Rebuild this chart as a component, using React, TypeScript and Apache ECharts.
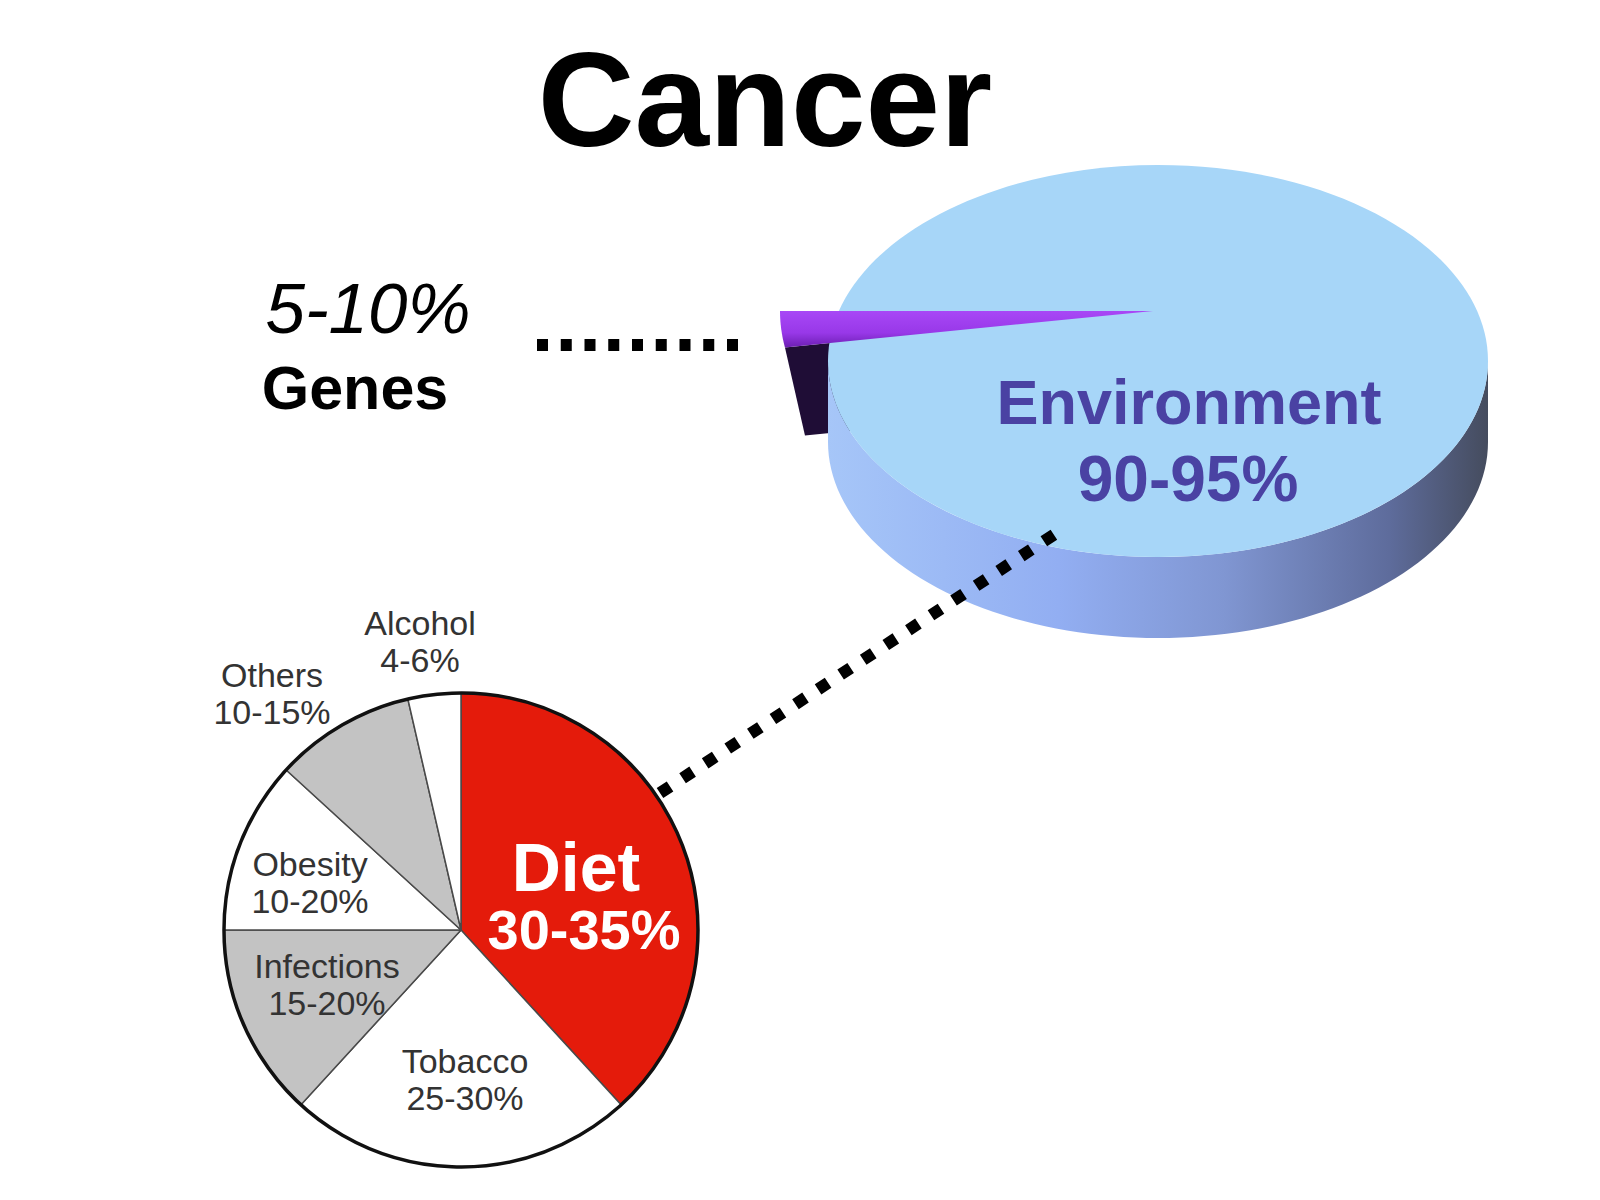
import React, { useEffect, useRef } from 'react';
import * as echarts from 'echarts';

// ---------- data ----------
const TITLE = 'Cancer';

// Big 3D pie (visual shares as drawn in the picture) and its printed ranges
const bigCategories = ['Genes', 'Environment'];
const bigShares = [2.6, 97.4];
const bigRanges = ['5-10%', '90-95%'];

// Small pie: causes of environment-related cancer
const smallCategories = ['Diet', 'Tobacco', 'Infections', 'Obesity', 'Others', 'Alcohol'];
const smallShares = [38.2, 23.6, 13.2, 11.8, 9.6, 3.6];
const smallRanges = ['30-35%', '25-30%', '15-20%', '10-20%', '10-15%', '4-6%'];

// ---------- styles / layout ----------
const FONT = '"Liberation Sans", Arial, Helvetica, sans-serif';
const SLICE_COLORS = ['#e41b0b', '#ffffff', '#c3c3c3', '#ffffff', '#c3c3c3', '#ffffff'];
const SMALL_PIE = { cx: 461, cy: 930, r: 237 };
const LABEL_POS: [number, number][] = [
  [582, 898],
  [465, 1079],
  [327, 984],
  [310, 882],
  [272, 693],
  [420, 641],
];
const BIG = { cx: 1158, cy: 361, rx: 330, ry: 196, depth: 81 };
const WEDGE = { tipX: 1153, tipY: 311, rx: 373, ry: 224, dropX: 20, dropY: 88 };

export default function App() {
  const ref = useRef<HTMLDivElement>(null);

  useEffect(() => {
    if (!ref.current) return;
    const chart = echarts.init(ref.current, null, { renderer: 'svg' });
    const bigTotal = bigShares.reduce((a, b) => a + b, 0);
    const rad = (d: number) => (d * Math.PI) / 180;

    const renderBig = (params: any, api: any) => {
      const v = api.value(0);
      if (params.dataIndex === 1) {
        const { cx, cy, rx, ry, depth } = BIG;
        const pts: number[][] = [];
        for (let t = 0; t <= 180; t += 2) pts.push([cx + rx * Math.cos(rad(t)), cy + ry * Math.sin(rad(t))]);
        for (let t = 180; t >= 0; t -= 2) pts.push([cx + rx * Math.cos(rad(t)), cy + ry * Math.sin(rad(t)) + depth]);
        return {
          type: 'group',
          children: [
            {
              type: 'polygon',
              z2: 2,
              shape: { points: pts },
              style: {
                fill: {
                  type: 'linear', x: 0, y: 0, x2: 1, y2: 0,
                  colorStops: [
                    { offset: 0, color: '#a6c6f8' },
                    { offset: 0.35, color: '#92aef2' },
                    { offset: 0.6, color: '#8096d2' },
                    { offset: 0.85, color: '#5e6c9c' },
                    { offset: 1, color: '#454c5e' },
                  ],
                },
              },
            },
            {
              type: 'ellipse',
              z2: 3,
              shape: { cx, cy, rx, ry },
              style: { fill: '#a7d6f8' },
            },
          ],
        };
      }
      // Genes wedge, exploded to the left
      const span = (360 * v) / bigTotal;
      const a0 = 180 - span;
      const a1 = 180;
      const { tipX, tipY, rx, ry, dropX, dropY } = WEDGE;
      const arc: number[][] = [];
      for (let i = 0; i <= 8; i++) {
        const t = a0 + ((a1 - a0) * i) / 8;
        arc.push([tipX + rx * Math.cos(rad(t)), tipY + ry * Math.sin(rad(t))]);
      }
      const B = arc[0];
      return {
        type: 'group',
        children: [
          {
            type: 'polygon',
            z2: 1,
            shape: {
              points: [B, [tipX, tipY], [tipX + dropX, tipY + dropY], [B[0] + dropX, B[1] + dropY]],
            },
            style: { fill: '#1f0d36' },
          },
          {
            type: 'polygon',
            z2: 4,
            shape: { points: [[tipX, tipY], ...arc] },
            style: {
              fill: {
                type: 'linear', x: 0, y: 0, x2: 0, y2: 1,
                colorStops: [
                  { offset: 0, color: '#a848f6' },
                  { offset: 0.6, color: '#9838e8' },
                  { offset: 1, color: '#6c1eb2' },
                ],
              },
            },
          },
        ],
      };
    };

    const option = {
      animation: false,
      backgroundColor: '#ffffff',
      series: [
        {
          type: 'custom',
          coordinateSystem: 'none',
          silent: true,
          z: 2,
          data: bigShares.map((v, i) => ({ name: bigCategories[i], value: v })),
          renderItem: renderBig,
        },
        {
          type: 'pie',
          silent: true,
          z: 3,
          center: [SMALL_PIE.cx, SMALL_PIE.cy],
          radius: [0, SMALL_PIE.r],
          startAngle: 90,
          clockwise: true,
          avoidLabelOverlap: false,
          emphasis: { disabled: true },
          data: smallCategories.map((n, i) => ({
            name: n,
            value: smallShares[i],
            itemStyle: { color: SLICE_COLORS[i] },
          })),
          itemStyle: { borderColor: '#4a4a4a', borderWidth: 1.5 },
          label: {
            show: true,
            position: 'inside',
            fontFamily: FONT,
            formatter: (p: any) =>
              p.dataIndex === 0
                ? `{dn|${p.name}}\n{dv|${smallRanges[0]}}`
                : `{n|${p.name}}\n{v|${smallRanges[p.dataIndex]}}`,
            rich: {
              dn: { fontFamily: FONT, fontSize: 68, fontWeight: 'bold', color: '#ffffff', lineHeight: 62, padding: [0, 12, 0, 0] },
              dv: { fontFamily: FONT, fontSize: 56, fontWeight: 'bold', color: '#ffffff', lineHeight: 62, padding: [0, 0, 0, 4] },
              n: { fontFamily: FONT, fontSize: 34, color: '#333333', lineHeight: 37 },
              v: { fontFamily: FONT, fontSize: 34, color: '#333333', lineHeight: 37 },
            },
          },
          labelLine: { show: false },
          labelLayout: (p: any) => ({
            x: LABEL_POS[p.dataIndex][0],
            y: LABEL_POS[p.dataIndex][1],
            align: 'center',
            verticalAlign: 'middle',
          }),
        },
      ],
      graphic: [
        {
          type: 'circle',
          z: 20,
          silent: true,
          shape: { cx: SMALL_PIE.cx, cy: SMALL_PIE.cy, r: SMALL_PIE.r },
          style: { fill: 'none', stroke: '#111111', lineWidth: 3.5 },
        },
        {
          type: 'line',
          z: 30,
          silent: true,
          shape: { x1: 537, y1: 345, x2: 743, y2: 345 },
          style: { stroke: '#000000', lineWidth: 12, lineDash: [11, 12.75] },
        },
        {
          type: 'line',
          z: 30,
          silent: true,
          shape: { x1: 660, y1: 793, x2: 1055, y2: 534 },
          style: { stroke: '#000000', lineWidth: 12, lineDash: [12, 15] },
        },
        {
          type: 'text',
          z: 40,
          x: 765,
          y: 99,
          style: { text: TITLE, font: `bold 134px ${FONT}`, fill: '#000000', align: 'center', verticalAlign: 'middle' },
        },
        {
          type: 'text',
          z: 40,
          x: 368,
          y: 308,
          style: { text: bigRanges[0], font: `italic 71px ${FONT}`, fill: '#000000', align: 'center', verticalAlign: 'middle' },
        },
        {
          type: 'text',
          z: 40,
          x: 355,
          y: 388,
          style: { text: bigCategories[0], font: `bold 61px ${FONT}`, fill: '#000000', align: 'center', verticalAlign: 'middle' },
        },
        {
          type: 'text',
          z: 40,
          x: 1189,
          y: 402,
          style: { text: bigCategories[1], font: `bold 63px ${FONT}`, fill: '#4a42a3', align: 'center', verticalAlign: 'middle' },
        },
        {
          type: 'text',
          z: 40,
          x: 1188,
          y: 479,
          style: { text: bigRanges[1], font: `bold 64px ${FONT}`, fill: '#4a42a3', align: 'center', verticalAlign: 'middle' },
        },
      ],
    };

    chart.setOption(option as any);
    return () => chart.dispose();
  }, []);

  return (
    <div
      ref={ref}
      style={{ position: 'fixed', left: 0, top: 0, width: 1600, height: 1200, background: '#ffffff' }}
    />
  );
}
